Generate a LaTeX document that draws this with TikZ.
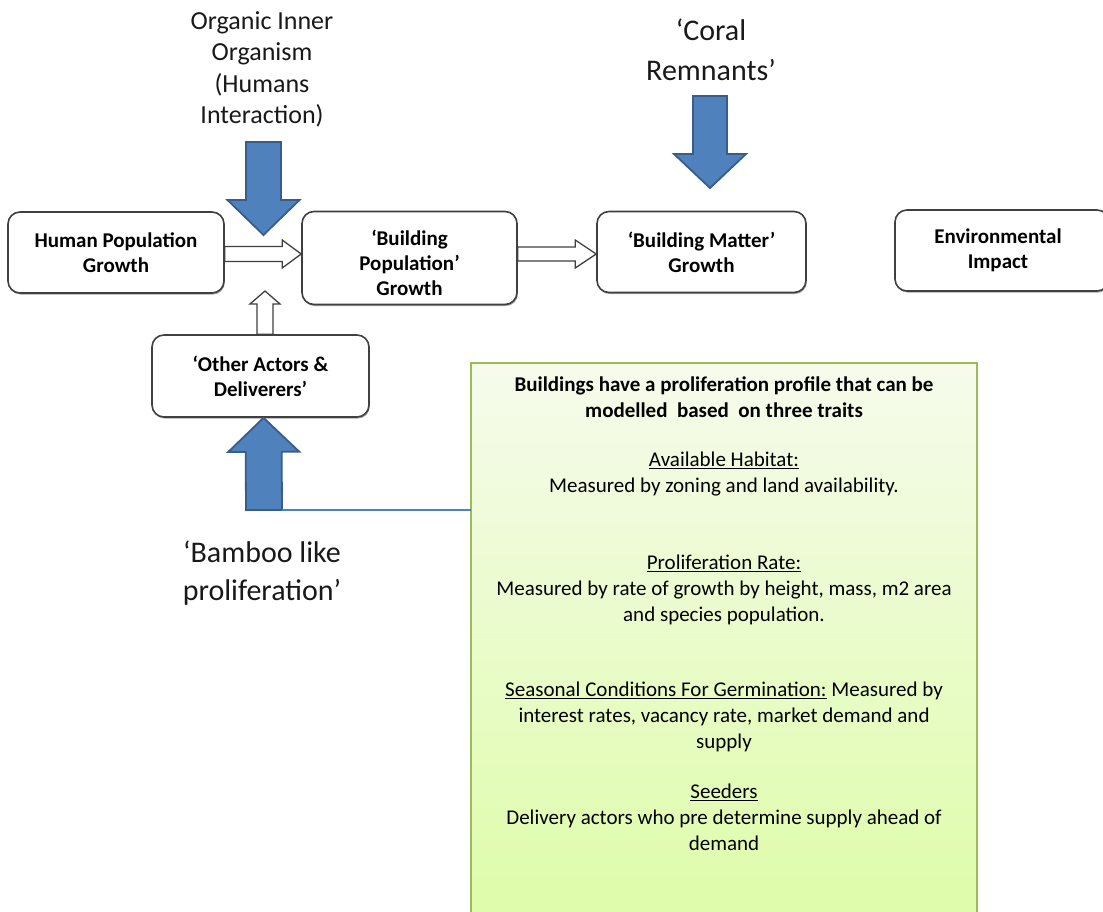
\documentclass[tikz,border=0pt]{standalone}
\usepackage{fontspec}
\setmainfont{Carlito}
\usetikzlibrary{calc,shadows}

\definecolor{arrowblue}{RGB}{79,129,189}
\definecolor{arrowedge}{RGB}{56,93,138}
\definecolor{boxedge}{RGB}{64,64,64}
\definecolor{noteedge}{RGB}{155,187,89}
\definecolor{notetop}{RGB}{246,251,236}
\definecolor{notebottom}{RGB}{222,252,170}

% block arrow: style, tail, tip, shaft half-width, head half-width, head length
\newcommand\blockarrow[6]{%
  \coordinate (ba-c) at ($(#3)!#6!(#2)$);
  \draw[#1] ($(#2)!#4!-90:(#3)$) -- ($(ba-c)!#4!-90:(#3)$)
    -- ($(ba-c)!#5!-90:(#3)$) -- (#3) -- ($(ba-c)!#5!90:(#3)$)
    -- ($(ba-c)!#4!90:(#3)$) -- ($(#2)!#4!90:(#3)$) -- cycle;}

\tikzset{
  stagebox/.style={draw=boxedge, line width=1.6pt, fill=white, rounded corners=12pt,
    align=center, inner sep=0pt, font=\bfseries\fontsize{21}{25}\selectfont,
    drop shadow={shadow xshift=0.8pt, shadow yshift=-1.6pt, opacity=0.35, fill=black}},
  stagetext/.style={align=center, inner sep=0pt, font=\bfseries\fontsize{21}{25}\selectfont},
  bluearrow/.style={fill=arrowblue, draw=arrowedge, line width=1.8pt, line join=miter},
  whitearrow/.style={fill=white, draw=boxedge, line width=1.3pt, line join=miter},
  bigcaption/.style={align=center, inner sep=0pt, anchor=north, text=black!90},
  notetext/.style={align=center, inner sep=0pt, anchor=north, font=\fontsize{21}{25.8}\selectfont},
}

\begin{document}
\begin{tikzpicture}[x=1pt, y=-1pt]
\useasboundingbox (0,0) rectangle (1103,911);
\fill[white] (0,0) rectangle (1103,911);

% stage boxes
\node[stagebox, minimum width=216pt, minimum height=81pt] (hpg) at (116,252.5) {Human Population\\Growth};
\node[stagebox, minimum width=215pt, minimum height=93pt] (bpg) at (409.5,258) {};
\node[stagetext] (bpg-text) at (409.5,263) {‘Building\\Population’\\Growth};
\node[stagebox, minimum width=209pt, minimum height=81pt] (bmg) at (701.5,252) {‘Building Matter’\\Growth};
\node[stagebox, minimum width=214pt, minimum height=81pt] (ei) at (1002,250.5) {\hspace*{-8pt}Environmental\\\hspace*{-8pt}Impact};
\node[stagebox, minimum width=217pt, minimum height=82pt] (oa) at (260.5,376) {‘Other Actors \&\\Deliverers’};

% captions
\node[bigcaption, font=\fontsize{26}{31.5}\selectfont] (org) at (262,11) {Organic  Inner\\Organism\\(Humans\\Interaction)};
\node[bigcaption, font=\fontsize{30}{39.5}\selectfont] (coral) at (711,19) {‘Coral\\Remnants’};
\node[bigcaption, font=\fontsize{30}{37.5}\selectfont] (bamboo) at (262,541) {‘Bamboo like\\proliferation’};

% note panel
\shade[top color=notetop, bottom color=notebottom] (471,363) rectangle (977,911);
\draw[noteedge, line width=1.8pt] (471,914) -- (471,363) -- (977,363) -- (977,914);
\coordinate (note) at (471,510);

\node[notetext, font=\bfseries\fontsize{21}{25.5}\selectfont] (n1) at (724,377) {Buildings have a proliferation profile that can be\\modelled \ based \ on three traits};
\node[notetext] (n2) at (724,452) {\underline{Available Habitat:}\\Measured by zoning and land availability.};
\node[notetext] (n3) at (724,555) {\underline{Proliferation Rate:}\\Measured by rate of growth by height, mass, m2 area\\and species population.};
\node[notetext] (n4) at (724,682) {\underline{Seasonal Conditions For Germination:} Measured by\\interest rates, vacancy rate, market demand and\\supply};
\node[notetext] (n5) at (724,784) {\underline{Seeders}\\Delivery actors who pre determine supply ahead of\\demand};

% white flow arrows
\coordinate (hpg-out) at (hpg.east |- 0,254);
\coordinate (bpg-in) at (bpg.west |- 0,254);
\blockarrow{whitearrow}{hpg-out}{bpg-in}{7.5pt}{14pt}{19pt}
\coordinate (bpg-out) at (bpg.east |- 0,254);
\coordinate (bmg-in) at (bmg.west |- 0,254);
\blockarrow{whitearrow}{bpg-out}{bmg-in}{7pt}{14pt}{21pt}
\coordinate (oa-out) at (oa.north -| 265,0);
\coordinate (oa-tip) at (265,291);
\blockarrow{whitearrow}{oa-out}{oa-tip}{8pt}{15pt}{13pt}

% blue influence arrows
\coordinate (org-tail) at (263.5,142);
\coordinate (org-tip) at (263.5,235);
\blockarrow{bluearrow}{org-tail}{org-tip}{17.5pt}{36pt}{35pt}
\coordinate (coral-tail) at (710,96);
\coordinate (coral-tip) at (710,188);
\blockarrow{bluearrow}{coral-tail}{coral-tip}{17pt}{36pt}{34pt}
\coordinate (bamboo-tail) at (264,510);
\coordinate (bamboo-tip) at (oa.south -| 263.5,0);
\blockarrow{bluearrow}{bamboo-tail}{bamboo-tip}{18pt}{35.5pt}{34pt}

% link from the bamboo arrow to the note panel
\draw[arrowblue, line width=2pt] ($(bamboo-tail)+(18,0)$) -- (note);
\end{tikzpicture}
\end{document}
